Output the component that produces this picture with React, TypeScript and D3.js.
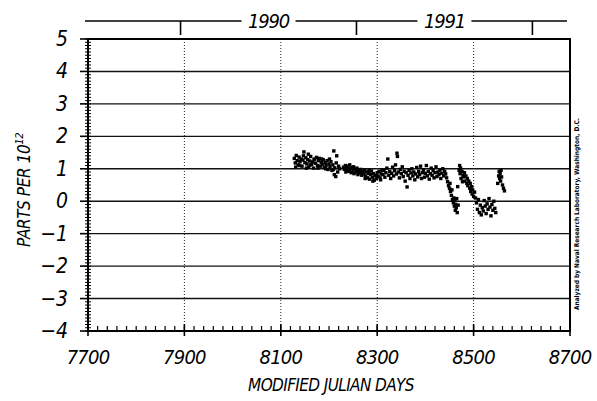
import { useEffect, useRef } from "react"
import * as d3 from "d3"

// axis ticks
const yTicks = [-4, -3, -2, -1, 0, 1, 2, 3, 4, 5]
const xLabelTicks = [7700, 7900, 8100, 8300, 8500, 8700]
const xGrid = [7900, 8100, 8300, 8500]
const yearStarts = [7892, 8257, 8622]
const yearLabels = ["1990", "1991"]

const seg1: [number, number][] = [
  [8128, 1.32], [8130, 1.18], [8131, 1.05], [8132, 1.41], [8134, 1.25], [8136, 1.12], [8138, 1.36],
  [8139, 1.1], [8140, 1.22], [8142, 1.3], [8144, 1.08], [8146, 1.27], [8147, 1.4], [8148, 1.52],
  [8150, 1.19], [8152, 1.34], [8153, 1.02], [8154, 1.15], [8156, 1.28], [8157, 1.45], [8158, 1.05],
  [8160, 1.24], [8161, 1.12], [8162, 1.38], [8164, 1.13], [8166, 1.21], [8168, 1.02], [8169, 1.28],
  [8170, 1.3], [8172, 1.17], [8174, 1.35], [8176, 1.1], [8177, 1.02], [8178, 1.25], [8180, 1.32],
  [8182, 1.08], [8184, 1.2], [8185, 1.3], [8186, 1.14], [8188, 1.28], [8190, 1.04], [8192, 1.19],
  [8193, 1.0], [8194, 1.11], [8196, 1.25], [8198, 0.98], [8200, 1.15], [8201, 1.3], [8202, 1.07],
  [8204, 1.22], [8206, 0.95], [8208, 1.12], [8209, 0.98], [8210, 1.55], [8211, 0.82], [8212, 1.03],
  [8214, 0.76], [8215, 1.18], [8216, 1.4], [8218, 0.9], [8220, 1.08], [8222, 1.0],
]
const seg2: [number, number][] = [
  [8230, 1.05], [8232, 0.98], [8234, 1.1], [8235, 0.9], [8236, 1.02], [8238, 0.95], [8240, 1.08],
  [8242, 0.92], [8243, 1.12], [8244, 1.0], [8246, 0.88], [8248, 1.04], [8250, 0.96], [8251, 1.06],
  [8252, 0.85], [8254, 0.99], [8256, 0.9], [8258, 1.02], [8259, 0.93], [8260, 0.82], [8262, 0.94],
  [8264, 0.87], [8266, 0.98], [8267, 0.88], [8268, 0.8], [8270, 0.92], [8272, 0.84], [8274, 0.96],
  [8275, 0.7], [8276, 0.78], [8278, 0.9], [8280, 0.72], [8282, 0.86], [8283, 0.95], [8284, 0.68],
  [8286, 0.82], [8288, 0.93], [8290, 0.74], [8291, 0.62], [8292, 0.85], [8294, 0.65], [8296, 0.8],
  [8298, 0.7], [8299, 0.78], [8300, 0.88], [8302, 0.76], [8304, 0.92], [8306, 0.72], [8307, 0.66],
  [8308, 0.84], [8310, 0.95],
]
const seg3: [number, number][] = [
  [8312, 0.82], [8314, 0.95], [8316, 0.74], [8318, 0.88], [8320, 1.02], [8322, 1.3], [8324, 0.8],
  [8326, 0.92], [8328, 0.7], [8330, 0.86], [8332, 1.05], [8334, 0.78], [8336, 0.94], [8338, 1.12],
  [8340, 0.84], [8341, 1.48], [8342, 1.38], [8344, 0.9], [8346, 0.72], [8348, 0.98], [8350, 0.85],
  [8352, 1.06], [8354, 0.76], [8356, 0.92], [8358, 0.62], [8360, 0.88], [8362, 0.44], [8364, 0.8],
  [8366, 0.95], [8368, 0.7], [8370, 0.87], [8372, 1.0], [8374, 0.78], [8376, 0.9], [8378, 0.66],
  [8380, 0.84], [8382, 1.04], [8384, 0.75], [8386, 0.92], [8388, 0.82], [8390, 1.08], [8392, 0.7],
  [8394, 0.88], [8396, 0.96], [8398, 0.74], [8400, 0.86], [8402, 1.1], [8404, 0.78], [8406, 0.92],
  [8408, 0.68], [8410, 0.85], [8412, 1.02], [8414, 0.8], [8416, 0.94], [8418, 0.72], [8420, 0.88],
  [8422, 1.06], [8424, 0.76], [8426, 0.9], [8428, 0.82], [8430, 0.96], [8432, 0.7], [8434, 0.86],
  [8436, 1.0], [8438, 0.78], [8440, 0.92], [8442, 0.84],
]
const seg4: [number, number][] = [
  [8444, 0.72], [8446, 0.6], [8448, 0.48], [8450, 0.4], [8451, 0.55], [8452, 0.3], [8454, 0.18],
  [8455, 0.35], [8456, 0.05], [8458, -0.05], [8459, 0.1], [8460, -0.15], [8461, 0.02], [8462, -0.28],
  [8463, -0.1], [8464, -0.2], [8465, 0.08], [8466, -0.35], [8467, 0.45], [8468, -0.12],
]
const seg5: [number, number][] = [
  [8470, 0.95], [8471, 1.1], [8472, 0.85], [8473, 1.02], [8474, 0.7], [8476, 0.92], [8477, 0.6],
  [8478, 0.8], [8480, 0.75], [8481, 0.88], [8482, 0.62], [8484, 0.78], [8486, 0.55], [8487, 0.7],
  [8488, 0.48], [8490, 0.62], [8492, 0.4], [8493, 0.55], [8494, 0.3], [8496, 0.45], [8497, 0.22],
  [8498, 0.35], [8500, 0.15], [8502, 0.28], [8504, 0.1],
]
const seg6: [number, number][] = [
  [8506, -0.05], [8508, -0.25], [8510, 0.05], [8512, -0.35], [8514, -0.12], [8516, -0.42],
  [8518, -0.2], [8520, -0.3], [8522, 0.02], [8524, -0.15], [8526, -0.38], [8528, -0.08],
  [8530, -0.25], [8532, 0.08], [8534, -0.18], [8536, -0.45], [8538, -0.1], [8540, -0.28],
  [8542, 0.0], [8544, -0.22], [8546, -0.35],
]
const seg7: [number, number][] = [
  [8550, 0.55], [8552, 0.78], [8553, 0.92], [8554, 0.7], [8555, 0.85], [8556, 0.62], [8557, 0.95],
  [8558, 0.75], [8560, 0.5], [8562, 0.4], [8564, 0.32],
]

const FONT = "'Liberation Sans Narrow', 'DejaVu Sans Condensed', sans-serif"

export default function App() {
  const svgRef = useRef<SVGSVGElement>(null)

  useEffect(() => {
    const svg = d3.select(svgRef.current)
    svg.selectAll("*").remove()

    const x = d3.scaleLinear().domain([7700, 8700]).range([88, 570])
    const y = d3.scaleLinear().domain([-4, 5]).range([331, 39])
    const [x0, x1] = x.range()
    const [yb, yt] = y.range()

    // horizontal grid
    svg.append("g")
      .selectAll("line")
      .data(yTicks.slice(1, -1))
      .join("line")
      .attr("x1", x0).attr("x2", x1)
      .attr("y1", d => y(d)).attr("y2", d => y(d))
      .attr("stroke", "#111").attr("stroke-width", 1.4)

    // vertical dotted grid
    svg.append("g")
      .selectAll("line")
      .data(xGrid)
      .join("line")
      .attr("x1", d => x(d)).attr("x2", d => x(d))
      .attr("y1", yt).attr("y2", yb)
      .attr("stroke", "#222").attr("stroke-width", 1)
      .attr("stroke-dasharray", "1,2")

    // frame
    svg.append("path")
      .attr("d", `M${x0},${yb}V${yt}H${x1}V${yb}H${x0}`)
      .attr("fill", "none").attr("stroke", "#000").attr("stroke-width", 2)

    // left minor ticks
    svg.append("g")
      .selectAll("line")
      .data(d3.range(-40, 51).map(i => i / 10))
      .join("line")
      .attr("x1", x0 - 3).attr("x2", x0 + 3)
      .attr("y1", d => y(d)).attr("y2", d => y(d))
      .attr("stroke", "#000").attr("stroke-width", 1)

    // left major ticks
    svg.append("g")
      .selectAll("line")
      .data(yTicks)
      .join("line")
      .attr("x1", x0 - 8).attr("x2", x0)
      .attr("y1", d => y(d)).attr("y2", d => y(d))
      .attr("stroke", "#000").attr("stroke-width", 1.6)

    svg.append("g")
      .selectAll("text")
      .data(yTicks)
      .join("text")
      .attr("x", x0 - 20).attr("y", d => y(d) + 7)
      .attr("text-anchor", "end")
      .attr("font-family", FONT).attr("font-style", "italic")
      .attr("font-size", 21)
      .text(d => (d < 0 ? "\u2212" + Math.abs(d) : String(d)))

    // bottom minor ticks
    svg.append("g")
      .selectAll("line")
      .data(d3.range(7700, 8701, 20))
      .join("line")
      .attr("x1", d => x(d)).attr("x2", d => x(d))
      .attr("y1", yb).attr("y2", yb - 5)
      .attr("stroke", "#000").attr("stroke-width", 1.2)

    svg.append("g")
      .selectAll("line")
      .data(xLabelTicks)
      .join("line")
      .attr("x1", d => x(d)).attr("x2", d => x(d))
      .attr("y1", yb + 5).attr("y2", yb - 7)
      .attr("stroke", "#000").attr("stroke-width", 1.6)

    svg.append("g")
      .selectAll("text")
      .data(xLabelTicks)
      .join("text")
      .attr("x", d => x(d)).attr("y", 364)
      .attr("text-anchor", "middle")
      .attr("font-family", FONT).attr("font-style", "italic")
      .attr("font-size", 20).attr("letter-spacing", -0.8)
      .text(d => String(d))

    // top year axis
    const top = 21
    svg.append("line")
      .attr("x1", x0 - 3).attr("x2", x1 - 3)
      .attr("y1", top).attr("y2", top)
      .attr("stroke", "#000").attr("stroke-width", 1.6)
    svg.append("g")
      .selectAll("line")
      .data(yearStarts)
      .join("line")
      .attr("x1", d => x(d)).attr("x2", d => x(d))
      .attr("y1", top).attr("y2", top + 14)
      .attr("stroke", "#000").attr("stroke-width", 1.6)

    const yearG = svg.append("g")
      .selectAll("g")
      .data(yearLabels)
      .join("g")
      .attr("transform", (_, i) => `translate(${x((yearStarts[i] + yearStarts[i + 1]) / 2)},${top + 7})`)
    yearG.append("rect")
      .attr("x", -27).attr("y", -14).attr("width", 54).attr("height", 18)
      .attr("fill", "#fff")
    yearG.append("text")
      .attr("text-anchor", "middle")
      .attr("font-family", FONT).attr("font-style", "italic")
      .attr("font-size", 20).attr("letter-spacing", -1.2)
      .text(d => d)

    // data points
    const pts = [...seg1, ...seg2, ...seg3, ...seg4, ...seg5, ...seg6, ...seg7]
    svg.append("g")
      .selectAll("rect")
      .data(pts)
      .join("rect")
      .attr("x", d => x(d[0]) - 1.7).attr("y", d => y(d[1]) - 1.7)
      .attr("width", 3.4).attr("height", 3.4)
      .attr("fill", "#000")

    // axis titles
    svg.append("text")
      .attr("x", 331).attr("y", 391)
      .attr("text-anchor", "middle")
      .attr("font-family", FONT).attr("font-style", "italic")
      .attr("font-size", 17).attr("letter-spacing", -0.6)
      .text("MODIFIED JULIAN DAYS")

    const yt2 = svg.append("text")
      .attr("transform", "translate(30,190) rotate(-90)")
      .attr("text-anchor", "middle")
      .attr("font-family", FONT).attr("font-style", "italic")
      .attr("font-size", 17).attr("letter-spacing", -0.4)
    yt2.append("tspan").text("PARTS PER 10")
    yt2.append("tspan").attr("dy", -7).attr("font-size", 11).text("12")

    svg.append("text")
      .attr("transform", "translate(579,214) rotate(-90)")
      .attr("text-anchor", "middle")
      .attr("font-family", FONT).attr("font-weight", "bold")
      .attr("font-size", 6.5)
      .text("Analyzed by Naval Research Laboratory, Washington, D.C.")
  }, [])

  return (
    <svg
      ref={svgRef}
      width={597}
      height={401}
      style={{ position: "absolute", left: 0, top: 0, background: "#fff" }}
    />
  )
}
